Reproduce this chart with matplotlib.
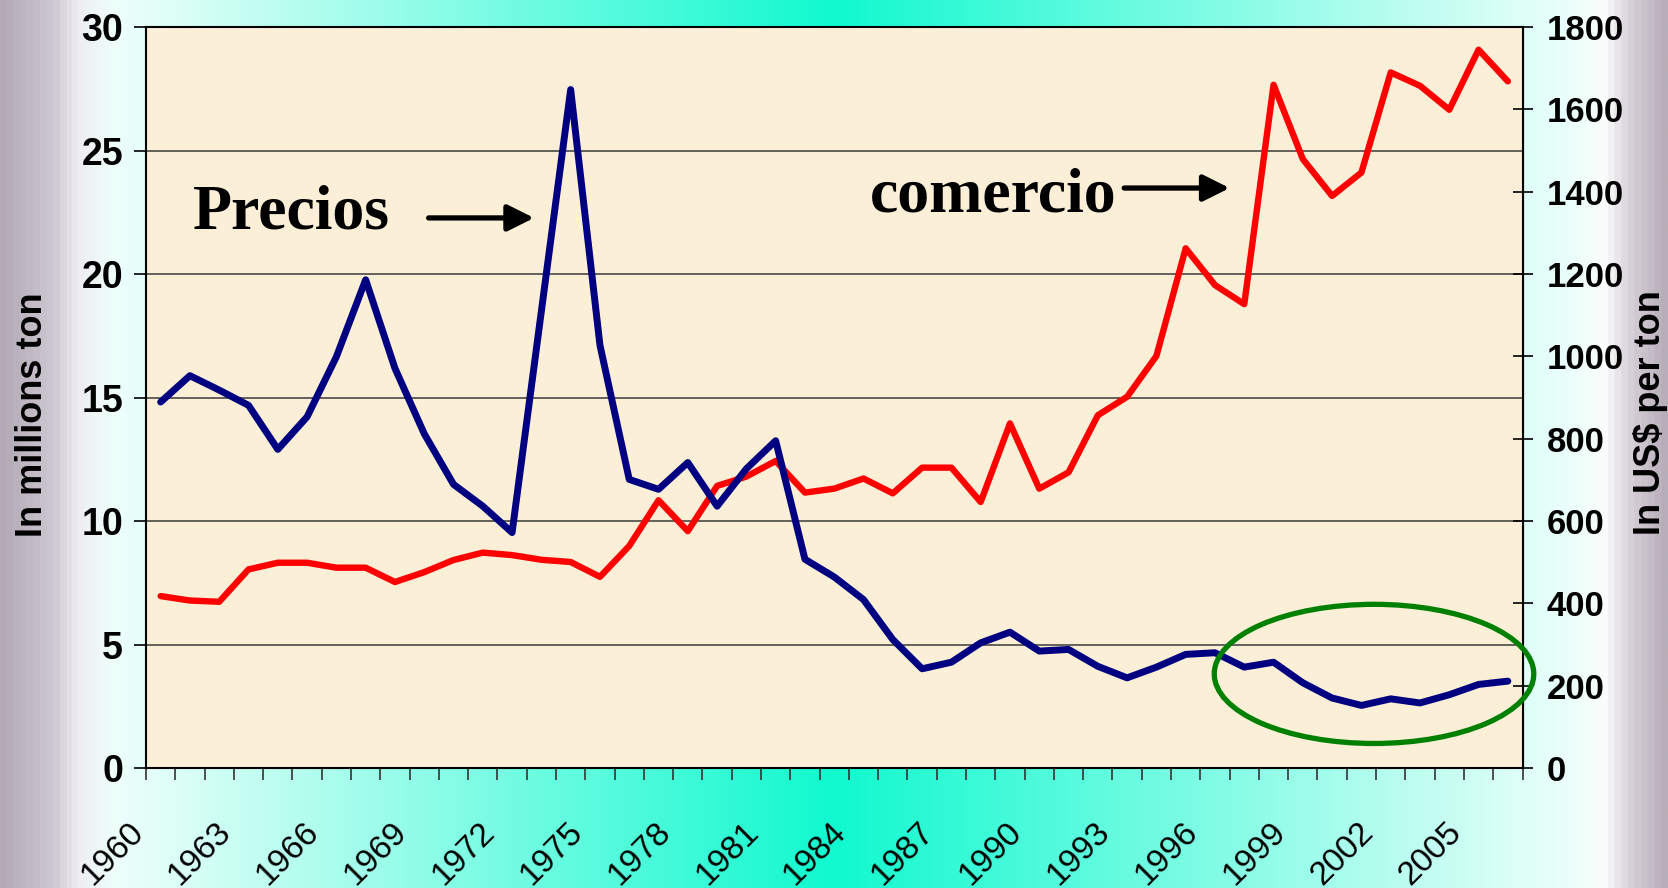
import numpy as np
import matplotlib.pyplot as plt
import matplotlib.transforms as mtransforms
from matplotlib.colors import LinearSegmentedColormap
from matplotlib.patches import Ellipse

plt.rcParams['font.family'] = ['Liberation Sans', 'DejaVu Sans']

years = list(range(1960, 2007))

# trade volume, millions of tons (left axis)
comercio = [
    6.96, 6.78, 6.73, 8.04, 8.31, 8.31, 8.11, 8.11, 7.53, 7.93,
    8.42, 8.72, 8.62, 8.43, 8.34, 7.74, 8.99, 10.84, 9.59, 11.42,
    11.80, 12.43, 11.15, 11.31, 11.72, 11.12, 12.16, 12.16, 10.77, 13.95,
    11.31, 11.97, 14.28, 15.03, 16.68, 21.04, 19.55, 18.78, 27.66, 24.65,
    23.16, 24.11, 28.16, 27.62, 26.65, 29.08, 27.80,
]

# price, US$ per ton (right axis)
precios = [
    889, 953, 918, 881, 774, 853, 999, 1186, 971, 812,
    689, 636, 572, 1110, 1648, 1027, 701, 677, 742, 636,
    727, 795, 507, 464, 409, 312, 241, 257, 304, 330,
    284, 288, 247, 219, 245, 276, 280, 245, 257, 207,
    170, 152, 168, 158, 178, 203, 211,
]

tick_years = years[::3]
left_ticks = [0, 5, 10, 15, 20, 25, 30]
right_ticks = [0, 200, 400, 600, 800, 1000, 1200, 1400, 1600, 1800]

fig = plt.figure(figsize=(16.68, 8.88), dpi=100)

# slide background: teal gradient with greyish edges
bg = fig.add_axes([0, 0, 1, 1], zorder=-10)
stops = [0.0, 0.03, 0.045, 0.065, 0.5, 0.95, 0.965, 0.98, 1.0]
colours = ['#b3aab6', '#cdc8d2', '#eeedf2', '#effffa', '#10f9cf', '#effffa',
           '#fbfcfc', '#d6d0d8', '#b7aeb9']
cmap = LinearSegmentedColormap.from_list('bg', list(zip(stops, colours)))
bg.imshow(np.linspace(0, 1, 1000).reshape(1, -1), aspect='auto', cmap=cmap,
          extent=[0, 1, 0, 1])
bg.axis('off')

ax = fig.add_axes([146 / 1668, 120 / 888, 1376.5 / 1668, 741 / 888])
ax.set_facecolor('#fcefd8')
x = np.arange(len(years))

ax.plot(x, comercio, color='#ff0000', lw=4.6, solid_capstyle='round')
ax.set_xlim(-0.5, len(years) - 0.5)
ax.set_ylim(0, 30)
ax.set_yticks(left_ticks)
ax.yaxis.grid(True, color='#3a3a3a', lw=1.1)
ax.set_axisbelow(True)

ax2 = ax.twinx()
ax2.plot(x, precios, color='#000080', lw=5.0, solid_capstyle='round')
ax2.set_ylim(0, 1800)
ax2.set_yticks(right_ticks)

# x axis: tick marks between years, labels every third year
ax.set_xticks(np.arange(-0.5, len(years), 1))
ax.set_xticklabels([])
ax.set_xticks(x[::3], minor=True)
ax.set_xticklabels([str(y) for y in tick_years], minor=True, rotation=45,
                   ha='right', va='top', fontsize=24)
ax.tick_params(axis='x', which='major', length=8.5, width=1.2, color='#333333')
ax.tick_params(axis='x', which='minor', length=0, pad=35)
shift = mtransforms.ScaledTranslation(-11 / 100, 0, fig.dpi_scale_trans)
for lbl in ax.get_xticklabels(minor=True):
    lbl.set_transform(lbl.get_transform() + shift)

ax.tick_params(axis='y', direction='out', length=8.5, width=1.2, pad=8, labelsize=27)
ax2.tick_params(axis='y', direction='inout', length=15, width=1.2, pad=10, labelsize=25)
plt.setp(ax.get_yticklabels(), fontweight='bold')
plt.setp(ax2.get_yticklabels(), fontweight='bold')

for s in ['left', 'bottom', 'top']:
    ax.spines[s].set_color('black')
    ax.spines[s].set_linewidth(1.5)
ax2.spines['right'].set_linewidth(1.5)
for s in ['left', 'bottom', 'top']:
    ax2.spines[s].set_visible(False)

fig.text(33 / 1668, 1 - 415 / 888, 'In millions ton', rotation=90, ha='center',
         va='center', fontsize=26, fontweight='bold')
fig.text(1651 / 1668, 1 - 413 / 888, 'In US$ per ton', rotation=90, ha='center',
         va='center', fontsize=26, fontweight='bold')

# annotations
ax.text(1.10, 21.85, 'Precios', family='Liberation Serif', fontweight='bold',
        fontsize=46, ha='left', va='baseline')
ax.text(24.2, 22.55, 'comercio', family='Liberation Serif', fontweight='bold',
        fontsize=46, ha='left', va='baseline')
arrow = dict(arrowstyle='-|>,head_length=0.8,head_width=0.4', mutation_scale=20,
             lw=3.8, color='black', shrinkA=0, shrinkB=0)
ax.annotate('', xy=(12.75, 22.27), xytext=(9.15, 22.27), arrowprops=arrow)
ax.annotate('', xy=(36.5, 23.48), xytext=(32.9, 23.48), arrowprops=arrow)

ax2.add_patch(Ellipse((41.43, 228.6), width=10.91, height=338, fill=False,
                      edgecolor='#008000', lw=3.8, clip_on=False, zorder=5))

fig.savefig('out.png', dpi=100)
